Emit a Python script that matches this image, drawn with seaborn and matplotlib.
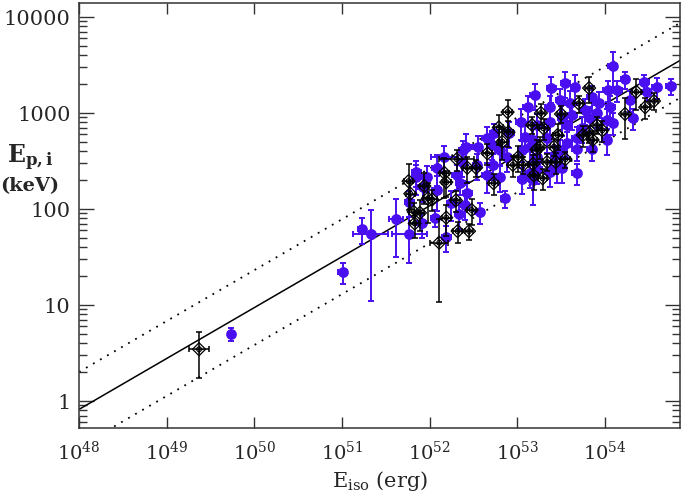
import numpy as np
import pandas as pd
import matplotlib
matplotlib.use("Agg")
import matplotlib.pyplot as plt
import matplotlib.ticker as mticker
import seaborn as sns

# log10 Eiso (erg), log10 Ep,i (keV), relative Ep error, log x error
blue_log_e = [49.73, 51.01, 51.23, 51.33, 51.62, 51.77, 52.06, 52.19, 52.35, 52.43,
              52.34, 52.57, 52.86, 53.06, 51.85, 51.92, 52.08, 52.25, 52.40, 51.91,
              51.77, 53.20, 53.12, 53.04, 52.91, 52.74, 52.65, 52.55, 52.42, 52.38,
              52.17, 52.08, 51.85, 51.97, 53.09, 53.14, 53.06, 52.88, 52.80, 53.22,
              52.72, 52.54, 52.31, 52.65, 52.80, 53.14, 54.09, 53.55, 54.23, 54.45,
              54.59, 53.39, 53.66, 53.85, 54.03, 54.14, 54.48, 53.49, 53.37, 53.60,
              53.93, 54.06, 54.32, 53.51, 53.63, 53.77, 53.37, 53.23, 53.57, 53.74,
              54.02, 54.09, 53.68, 53.57, 53.83, 53.18, 53.34, 53.68, 53.85, 53.49,
              54.02, 53.91, 53.43, 53.22, 53.37, 53.51, 53.68, 53.23, 53.45, 53.18,
              52.71, 52.37, 54.75, 54.29]
blue_log_ep = [0.70, 1.34, 1.79, 1.74, 1.90, 1.74, 1.91, 1.71, 2.27, 2.17,
               1.95, 1.97, 2.11, 2.31, 2.33, 2.23, 2.20, 2.06, 2.04, 1.85,
               2.07, 3.19, 3.06, 2.91, 2.79, 2.79, 2.74, 2.65, 2.65, 2.61,
               2.54, 2.43, 2.385, 2.33, 2.75, 2.65, 2.61, 2.54, 2.61, 2.54,
               2.46, 2.46, 2.35, 2.35, 2.33, 2.375, 3.49, 3.31, 3.35, 3.32,
               3.27, 3.26, 3.27, 3.17, 3.24, 3.24, 3.22, 3.135, 3.06, 3.10,
               3.10, 3.06, 2.95, 2.95, 2.98, 3.03, 2.91, 2.875, 2.875, 2.84,
               2.93, 2.90, 2.74, 2.69, 2.95, 2.72, 2.74, 2.625, 2.625, 2.61,
               2.72, 3.00, 2.56, 2.51, 2.385, 2.43, 2.375, 2.42, 2.43, 2.30,
               2.67, 2.49, 3.28, 3.135]
blue_ep_rel = [0.15, 0.25, 0.3, 0.8, 0.6, 0.5, 0.2, 0.3, 0.25, 0.3,
               0.3, 0.25, 0.2, 0.3, 0.35, 0.3, 0.4, 0.35, 0.3, 0.3,
               0.3, 0.3, 0.3, 0.35, 0.3, 0.25, 0.3, 0.3, 0.35, 0.25,
               0.3, 0.35, 0.3, 0.3, 0.3, 0.3, 0.25, 0.3, 0.3, 0.25,
               0.3, 0.3, 0.3, 0.35, 0.3, 0.3, 0.4, 0.3, 0.2, 0.2,
               0.25, 0.3, 0.35, 0.3, 0.25, 0.25, 0.2, 0.3, 0.3, 0.35,
               0.3, 0.3, 0.25, 0.35, 0.3, 0.3, 0.3, 0.3, 0.3, 0.3,
               0.3, 0.25, 0.3, 0.3, 0.3, 0.3, 0.3, 0.25, 0.25, 0.3,
               0.3, 0.3, 0.25, 0.3, 0.3, 0.3, 0.25, 0.3, 0.3, 0.45,
               0.3, 0.3, 0.2, 0.25]
blue_e_err = [0.03, 0.05, 0.05, 0.2, 0.08, 0.2, 0.04, 0.05, 0.05, 0.05,
              0.05, 0.05, 0.04, 0.05, 0.05, 0.05, 0.05, 0.05, 0.05, 0.05,
              0.05, 0.05, 0.05, 0.05, 0.05, 0.05, 0.05, 0.05, 0.05, 0.05,
              0.15, 0.05, 0.05, 0.05, 0.05, 0.05, 0.05, 0.05, 0.05, 0.05,
              0.05, 0.05, 0.05, 0.05, 0.05, 0.05, 0.05, 0.05, 0.05, 0.05,
              0.05, 0.05, 0.05, 0.05, 0.05, 0.05, 0.05, 0.05, 0.05, 0.05,
              0.05, 0.05, 0.05, 0.05, 0.05, 0.05, 0.05, 0.05, 0.05, 0.05,
              0.05, 0.05, 0.05, 0.05, 0.05, 0.05, 0.05, 0.05, 0.05, 0.05,
              0.05, 0.05, 0.05, 0.05, 0.05, 0.05, 0.05, 0.05, 0.05, 0.05,
              0.05, 0.05, 0.05, 0.05]

black_log_e = [49.37, 52.11, 51.76, 51.78, 51.82, 51.83, 51.94, 51.98, 52.03, 51.89,
               52.17, 52.19, 52.30, 52.19, 52.32, 52.45, 52.48, 52.31, 52.43, 52.53,
               52.66, 52.73, 52.83, 52.79, 52.89, 52.90, 53.01, 52.95, 53.07, 53.18,
               53.19, 53.29, 53.22, 53.17, 53.27, 53.34, 53.44, 53.55, 53.26, 53.42,
               53.30, 53.46, 53.50, 53.70, 53.82, 53.75, 53.82, 53.91, 53.97, 53.86,
               54.23, 54.36, 54.46, 54.56]
black_log_ep = [0.54, 1.65, 2.29, 2.16, 1.97, 1.85, 2.24, 2.11, 2.10, 1.96,
                2.375, 2.28, 2.09, 1.91, 1.77, 1.77, 1.99, 2.52, 2.43, 2.43,
                2.58, 2.27, 2.70, 2.85, 3.01, 2.80, 2.54, 2.46, 2.46, 2.47,
                2.35, 2.32, 2.62, 2.875, 3.00, 2.49, 2.49, 2.52, 2.65, 2.65,
                2.84, 2.77, 2.99, 3.10, 3.26, 2.77, 2.79, 2.875, 2.82, 2.72,
                2.99, 3.22, 3.06, 3.125]
black_ep_rel = [0.5, 0.76, 0.5, 0.3, 0.25, 0.3, 0.35, 0.45, 0.25, 0.35,
                0.45, 0.3, 0.25, 0.35, 0.25, 0.2, 0.3, 0.25, 0.3, 0.2,
                0.25, 0.25, 0.35, 0.35, 0.35, 0.3, 0.3, 0.25, 0.2, 0.25,
                0.3, 0.25, 0.25, 0.2, 0.25, 0.2, 0.25, 0.2, 0.25, 0.2,
                0.25, 0.3, 0.2, 0.2, 0.3, 0.25, 0.2, 0.2, 0.25, 0.25,
                0.45, 0.35, 0.25, 0.2]
black_e_err = [0.11, 0.1, 0.05, 0.05, 0.05, 0.05, 0.05, 0.05, 0.05, 0.05,
               0.05, 0.05, 0.05, 0.05, 0.05, 0.05, 0.05, 0.2, 0.05, 0.05,
               0.05, 0.05, 0.05, 0.05, 0.05, 0.05, 0.05, 0.05, 0.05, 0.05,
               0.05, 0.05, 0.05, 0.05, 0.05, 0.05, 0.05, 0.05, 0.05, 0.05,
               0.05, 0.05, 0.05, 0.05, 0.05, 0.05, 0.05, 0.05, 0.05, 0.05,
               0.05, 0.05, 0.05, 0.05]

x_decades = [48, 49, 50, 51, 52, 53, 54]
y_ticks = [1, 10, 100, 1000, 10000]

# best fit relation Ep = K * (Eiso/1e52)^m, dotted lines +/- scatter (dex)
fit_k = 108.0
fit_m = 0.53
fit_sig = 0.39

blue_col = "#4a0ff0"


def make_df(log_e, log_ep, rel, e_err):
    df = pd.DataFrame({"log_e": log_e, "log_ep": log_ep, "rel": rel, "xe": e_err})
    df["eiso"] = 10 ** df["log_e"]
    df["ep"] = 10 ** df["log_ep"]
    return df


blue = make_df(blue_log_e, blue_log_ep, blue_ep_rel, blue_e_err)
black = make_df(black_log_e, black_log_ep, black_ep_rel, black_e_err)

sns.set_style("ticks")
plt.rcParams['font.family'] = ['DejaVu Serif']
plt.rcParams['mathtext.fontset'] = 'dejavuserif'

fig = plt.figure(figsize=(6.85, 4.96), dpi=100)
ax = fig.add_axes([0.1153, 0.137, 0.8774, 0.857])

xmin, xmax = 1e48, 10 ** 54.857
ymin, ymax = 0.524, 14000

# relation lines
xs = np.array([xmin, xmax])
ys = fit_k * (xs / 1e52) ** fit_m
ax.plot(xs, ys, color="black", lw=1.1, zorder=1)
ax.plot(xs, ys * 10 ** fit_sig, color="black", lw=1.3, ls=(0, (1, 3.5)), zorder=1)
ax.plot(xs, ys / 10 ** fit_sig, color="black", lw=1.3, ls=(0, (1, 3.5)), zorder=1)


def draw_err(df, col, lw, z):
    xlo = df["eiso"] - 10 ** (df["log_e"] - df["xe"])
    xhi = 10 ** (df["log_e"] + df["xe"]) - df["eiso"]
    ylo = df["ep"] * df["rel"]
    yhi = df["ep"] * df["rel"]
    ax.errorbar(df["eiso"], df["ep"], xerr=[xlo, xhi], yerr=[ylo, yhi], fmt="none",
                ecolor=col, elinewidth=lw, capsize=2, capthick=lw, zorder=z)


draw_err(blue, blue_col, 1.4, 2)
sns.scatterplot(data=blue, x="eiso", y="ep", color=blue_col, s=60, edgecolor=blue_col,
                linewidth=0, ax=ax, zorder=3)

draw_err(black, "black", 1.1, 4)
sns.scatterplot(data=black, x="eiso", y="ep", marker="D", s=44, facecolor="none",
                edgecolor="black", linewidth=0.9, ax=ax, zorder=5)
sns.scatterplot(data=black, x="eiso", y="ep", marker="o", s=12, facecolor="none",
                edgecolor="black", linewidth=0.8, ax=ax, zorder=6)
sns.scatterplot(data=black, x="eiso", y="ep", marker="+", s=28, color="black",
                linewidth=0.8, ax=ax, zorder=6)

ax.set_xscale("log")
ax.set_yscale("log")
ax.set_xlim(xmin, xmax)
ax.set_ylim(ymin, ymax)

ax.xaxis.set_major_locator(mticker.FixedLocator([10.0 ** d for d in x_decades]))
ax.xaxis.set_major_formatter(mticker.FixedFormatter([r"$10^{%d}$" % d for d in x_decades]))
ax.xaxis.set_minor_locator(mticker.NullLocator())
ax.yaxis.set_major_locator(mticker.FixedLocator(y_ticks))
ax.yaxis.set_major_formatter(mticker.FixedFormatter([str(t) for t in y_ticks]))
ax.yaxis.set_minor_locator(mticker.FixedLocator(
    [m * t for t in [0.1] + y_ticks for m in range(2, 10) if ymin <= m * t <= ymax]))
ax.yaxis.set_minor_formatter(mticker.NullFormatter())

ax.tick_params(which="both", direction="in", top=True, right=True, color="#333333")
ax.tick_params(axis="x", which="major", length=8, width=1, labelsize=14, pad=9)
ax.tick_params(axis="y", which="major", length=11, width=1, labelsize=15, pad=6)
ax.tick_params(axis="y", which="minor", length=6, width=1)
for s in ax.spines.values():
    s.set_linewidth(1.1)
    s.set_color("#333333")

ax.set_xlabel(r"E$_{\rm iso}$ (erg)", fontsize=15, labelpad=4)
ax.yaxis.label.set_visible(False)
fig.text(30 / 685, 1 - 158 / 496, r"$\mathbf{E_{p,i}}$", fontsize=17, ha="center", va="center")
fig.text(30 / 685, 1 - 186 / 496, "(keV)", fontsize=14, fontweight="bold", ha="center", va="center")

fig.savefig("out.png", dpi=100)
